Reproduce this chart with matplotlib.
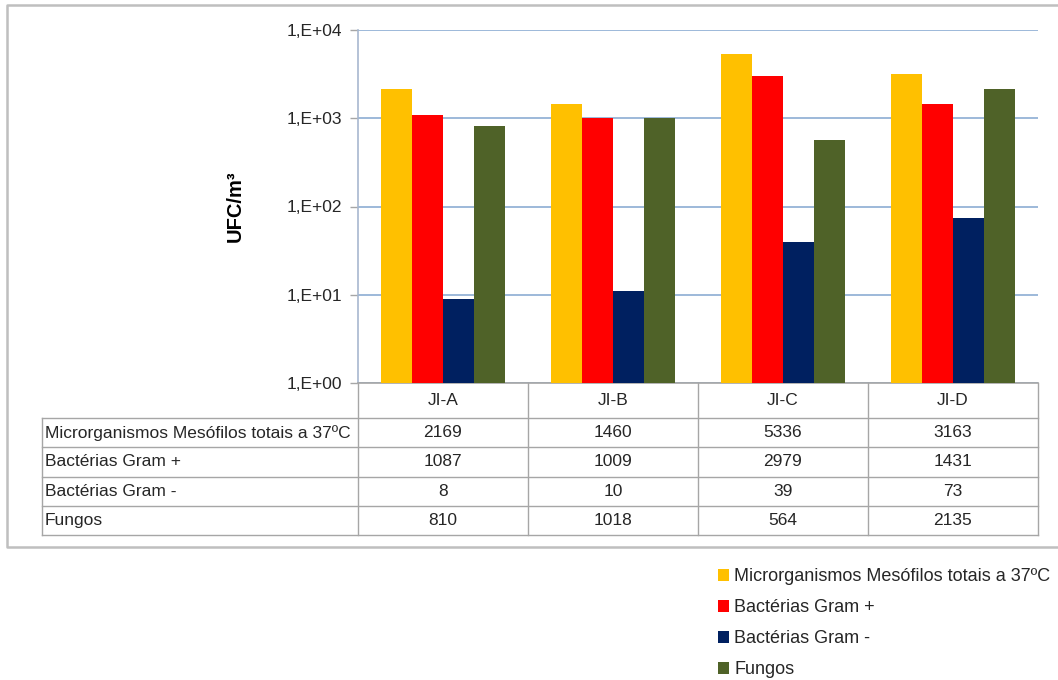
import matplotlib
matplotlib.use("Agg")
import matplotlib.pyplot as plt
from matplotlib.lines import Line2D
from matplotlib.patches import Patch
from matplotlib.transforms import blended_transform_factory
from matplotlib.ticker import FixedLocator, FixedFormatter, NullLocator

# ---- data ----
sites = ["JI-A", "JI-B", "JI-C", "JI-D"]
series_names = [
    "Microrganismos Mesófilos totais a 37ºC",
    "Bactérias Gram +",
    "Bactérias Gram -",
    "Fungos",
]
mesofilos = [2169, 1460, 5336, 3163]
gram_pos = [1087, 1009, 2979, 1431]
gram_neg = [8, 10, 39, 73]
fungos = [810, 1018, 564, 2135]
series_values = [mesofilos, gram_pos, gram_neg, fungos]
colors = ["#FFC000", "#FF0000", "#002060", "#4F6228"]
ytick_values = [1, 10, 100, 1000, 10000]
ytick_labels = ["1,E+00", "1,E+01", "1,E+02", "1,E+03", "1,E+04"]

plt.rcParams["font.family"] = ["Liberation Sans", "DejaVu Sans"]

W, H = 1058, 680
fig = plt.figure(figsize=(W / 100, H / 100), dpi=100)


def fx(px):
    return px / W


def fy(py):
    return 1 - py / H


text_color = "#262626"
grid_color = "#A6A6A6"

# ---- plot area ----
ax_left, ax_right, ax_top, ax_bottom = 358, 1038, 30, 383
ax = fig.add_axes([fx(ax_left), fy(ax_bottom), (ax_right - ax_left) / W,
                   (ax_bottom - ax_top) / H])
ax.set_yscale("log")
ax.set_ylim(1, 10000)
ax.set_xlim(-0.5, len(sites) - 0.5)

bar_w = 0.182
n = len(series_values)
for i, (vals, col) in enumerate(zip(series_values, colors)):
    offs = (i - (n - 1) / 2) * bar_w
    ax.bar([k + offs for k in range(len(sites))], vals, width=bar_w,
           color=col, bottom=1, zorder=3, linewidth=0)

ax.yaxis.set_major_locator(FixedLocator(ytick_values))
ax.yaxis.set_major_formatter(FixedFormatter(ytick_labels))
ax.yaxis.set_minor_locator(NullLocator())
ax.set_xticks([])
ax.tick_params(axis="y", direction="out", length=6, width=1, color=grid_color,
               pad=5.5, labelsize=12.5, labelcolor=text_color)
ax.grid(axis="y", color="#95B3D7", linewidth=1.3, zorder=0)
for s in ["top", "right"]:
    ax.spines[s].set_visible(False)
ax.spines["left"].set_color("#A8B8CF")
ax.spines["bottom"].set_color(grid_color)
ax.spines["left"].set_linewidth(1.2)
ax.spines["bottom"].set_linewidth(1.2)
ax.set_ylabel("UFC/m³", fontsize=14.5, fontweight="bold", color="black",
              labelpad=30)

# ---- data table below the plot ----
tr = blended_transform_factory(ax.transData, fig.transFigure)
header_bottom = 418
row_h = (535 - header_bottom) / len(series_names)
table_left = 42
row_lines = [header_bottom + r * row_h for r in range(len(series_names) + 1)]

for yl in row_lines:
    fig.add_artist(Line2D([fx(table_left), fx(ax_right)], [fy(yl), fy(yl)],
                          transform=fig.transFigure, color=grid_color, lw=1))
for k in range(len(sites) + 1):
    xb = k - 0.5
    fig.add_artist(Line2D([xb, xb], [fy(ax_bottom), fy(row_lines[-1])],
                          transform=tr, color=grid_color, lw=1))
fig.add_artist(Line2D([fx(table_left), fx(table_left)],
                      [fy(header_bottom), fy(row_lines[-1])],
                      transform=fig.transFigure, color=grid_color, lw=1))

for k, site in enumerate(sites):
    fig.text(k, fy((ax_bottom + header_bottom) / 2), site, transform=tr,
             ha="center", va="center", fontsize=12.5, color=text_color)

for r, (name, vals) in enumerate(zip(series_names, series_values)):
    yc = fy(row_lines[r] + row_h / 2)
    fig.text(fx(table_left + 3), yc, name, ha="left", va="center",
             fontsize=12.5, color=text_color)
    for k, v in enumerate(vals):
        fig.text(k, yc, str(v), transform=tr, ha="center", va="center",
                 fontsize=12.5, color=text_color)

# ---- outer frame ----
frame_color = "#BFBFBF"
fig.add_artist(Line2D([fx(1070), fx(7), fx(7), fx(1070)],
                      [fy(5), fy(5), fy(547), fy(547)],
                      transform=fig.transFigure, color=frame_color, lw=1.8))

# ---- legend ----
handles = [Patch(facecolor=c, edgecolor="none") for c in colors]
fig.legend(handles, series_names, loc="upper left",
           bbox_to_anchor=(fx(711), fy(561)), frameon=False, fontsize=13.0,
           handlelength=0.6, handleheight=0.6, handletextpad=0.3,
           labelspacing=0.78, labelcolor=text_color, borderaxespad=0)

fig.savefig("out.png", dpi=100)
